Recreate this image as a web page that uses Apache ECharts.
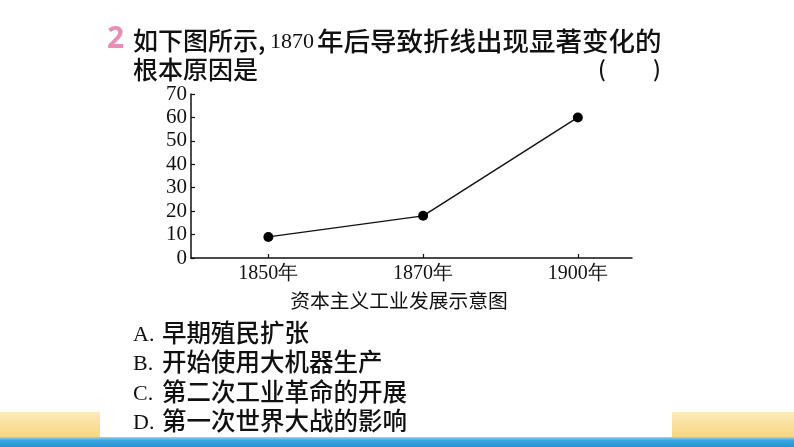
<!DOCTYPE html>
<html>
<head>
<meta charset="utf-8">
<script src="https://cdn.jsdelivr.net/npm/echarts@6/dist/echarts.min.js"></script>
<style>html,body{margin:0;padding:0;background:#fff;}#c{width:794px;height:447px;}</style>
</head>
<body>
<div id="c"></div>
<script>
// ---- data ----
var categories = ['1850年', '1870年', '1900年'];
var values = [9, 18, 60];
var yTicks = [0, 10, 20, 30, 40, 50, 60, 70];
var questionNo = '2';
var questionLine1a = '如下图所示,';
var questionYear = '1870';
var questionLine1b = '年后导致折线出现显著变化的';
var questionLine2 = '根本原因是';
var caption = '资本主义工业发展示意图';
var optionLetters = ['A.', 'B.', 'C.', 'D.'];
var optionTexts = ['早期殖民扩张', '开始使用大机器生产', '第二次工业革命的开展', '第一次世界大战的影响'];

var serif = '"Liberation Serif","DejaVu Serif",serif';
var cjk = '"Noto Sans CJK SC","Noto Sans",sans-serif';

var chart = echarts.init(document.getElementById('c'), null, {renderer: 'canvas'});

var seriesData = categories.map(function (c, i) { return [i, values[i]]; });

var sandFill = function () {
  return new echarts.graphic.LinearGradient(0, 0, 0, 1, [{offset: 0, color: '#fdebb9'}, {offset: 1, color: '#f8d47e'}]);
};

var graphics = [
  // sand blocks
  {type: 'rect', left: 0, top: 412, shape: {width: 100, height: 27}, style: {fill: sandFill()}, silent: true},
  {type: 'rect', left: 672, top: 412, shape: {width: 122, height: 27}, style: {fill: sandFill()}, silent: true},
  // water band
  {type: 'rect', left: 0, top: 437, shape: {width: 794, height: 10},
   style: {fill: new echarts.graphic.LinearGradient(0, 0, 0, 1, [{offset: 0, color: '#9ad5f2'}, {offset: 0.35, color: '#3aa6df'}, {offset: 1, color: '#2a90d2'}])}, silent: true},
  // question
  {type: 'text', left: 107, top: 24, style: {text: questionNo, font: 'bold 30px "Noto Sans","DejaVu Sans",sans-serif', fill: '#e88fb6'}},
  {type: 'text', left: 133, top: 28, style: {text: questionLine1a, font: '500 25px ' + cjk, fill: '#111'}},
  {type: 'text', left: 270, top: 31, style: {text: questionYear, font: '22px ' + serif, fill: '#111'}},
  {type: 'text', left: 317, top: 28, style: {text: questionLine1b, font: '500 26.5px ' + cjk, fill: '#111'}},
  {type: 'text', left: 133, top: 57, style: {text: questionLine2, font: '500 25px ' + cjk, fill: '#111'}},
  {type: 'text', left: 598, top: 58, style: {text: '(', font: '500 22px ' + cjk, fill: '#111'}},
  {type: 'text', left: 653, top: 58, style: {text: ')', font: '500 22px ' + cjk, fill: '#111'}},
  // caption
  {type: 'text', x: 399, y: 300, style: {text: caption, font: '19.8px ' + cjk, fill: '#111', align: 'center', verticalAlign: 'middle'}}
];

var optY = [333, 362, 392, 421];
optionLetters.forEach(function (l, i) {
  graphics.push({type: 'text', x: 133, y: optY[i] + 2, style: {text: l, font: '22px ' + serif, fill: '#111', verticalAlign: 'middle'}});
  graphics.push({type: 'text', x: 162, y: optY[i], style: {text: optionTexts[i], font: '500 24.5px ' + cjk, fill: '#111', verticalAlign: 'middle'}});
});

chart.setOption({
  animation: false,
  backgroundColor: '#ffffff',
  grid: {left: 191, right: 162, top: 94, bottom: 189, containLabel: false},
  xAxis: {
    type: 'value', min: -0.5, max: 2.35, interval: 0.5,
    axisLine: {show: true, onZero: false, lineStyle: {color: '#111', width: 1.5}},
    axisTick: {show: true, inside: true, length: 4, customValues: [0, 1, 2], lineStyle: {color: '#111', width: 1.2}},
    axisLabel: {
      customValues: [0, 1, 2], margin: 6,
      formatter: function (v) { return categories[Math.round(v)] || ''; },
      fontFamily: serif, fontSize: 20, color: '#111'
    },
    splitLine: {show: false}
  },
  yAxis: {
    type: 'value', min: 0, max: 70, interval: 10,
    axisLine: {show: true, onZero: false, lineStyle: {color: '#111', width: 1.5}},
    axisTick: {show: true, inside: true, length: 4, lineStyle: {color: '#111', width: 1.2}},
    axisLabel: {margin: 4, fontFamily: serif, fontSize: 21, color: '#111',
      formatter: function (v) { return yTicks.indexOf(v) >= 0 ? String(v) : ''; }},
    splitLine: {show: false}
  },
  series: [{
    type: 'line', data: seriesData,
    symbol: 'circle', symbolSize: 10,
    lineStyle: {color: '#111', width: 1.4},
    itemStyle: {color: '#000'}
  }],
  graphic: graphics
});
</script>
</body>
</html>
